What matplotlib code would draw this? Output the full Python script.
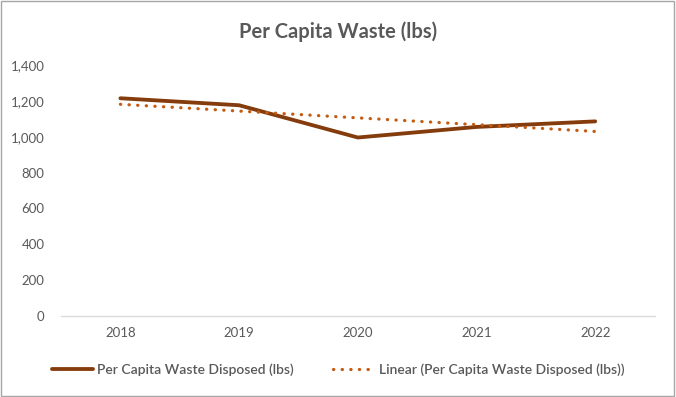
import numpy as np
import matplotlib
matplotlib.use("Agg")
import matplotlib.pyplot as plt
from matplotlib.patches import Rectangle

years = ["2018", "2019", "2020", "2021", "2022"]
waste = [1215, 1176, 996, 1055, 1086]

plt.rcParams['font.family'] = ['Lato', 'DejaVu Sans']

fig = plt.figure(figsize=(6.76, 3.97), dpi=100)
ax = fig.add_axes([0.0903, 0.204, 0.878, 0.632])

x = np.arange(len(years))
# linear trendline like Excel's
slope, intercept = np.polyfit(x, waste, 1)
trend = slope * x + intercept

ax.plot(x, waste, color="#843C0C", lw=2.75, solid_capstyle="round",
        label="Per Capita Waste Disposed (lbs)")
ax.plot(x, trend, color="#C55A11", lw=2.3, linestyle=(0, (0.1, 2.6)),
        dash_capstyle="round", label="Linear (Per Capita Waste Disposed (lbs))")

ax.set_xlim(-0.5, len(years) - 0.5)
ax.set_ylim(0, 1400)
ax.set_xticks(x)
ax.set_xticklabels(years)
ax.set_yticks(range(0, 1401, 200))
ax.yaxis.set_major_formatter(matplotlib.ticker.FuncFormatter(lambda v, p: f"{int(v):,}"))
ax.tick_params(length=0, labelsize=9.5, colors="#595959", pad=8)
ax.tick_params(axis="y", pad=12)
for s in ["top", "right", "left"]:
    ax.spines[s].set_visible(False)
ax.spines["bottom"].set_color("#D9D9D9")
ax.spines["bottom"].set_linewidth(0.9)

fig.suptitle("Per Capita Waste (lbs)", y=0.945, fontsize=14.5,
             fontweight="bold", color="#595959")

fig.legend(loc="center", bbox_to_anchor=(0.5, 0.07), ncol=2, frameon=False,
           prop={"size": 10, "weight": "semibold"}, labelcolor="#595959",
           handlelength=3.0, handletextpad=0.3, columnspacing=2.8)

fig.patches.append(Rectangle((0.002, 0.003), 0.995, 0.994, transform=fig.transFigure,
                             fill=False, edgecolor="#A6A6A6", lw=1))

fig.savefig("out.png", dpi=100, facecolor="white")
